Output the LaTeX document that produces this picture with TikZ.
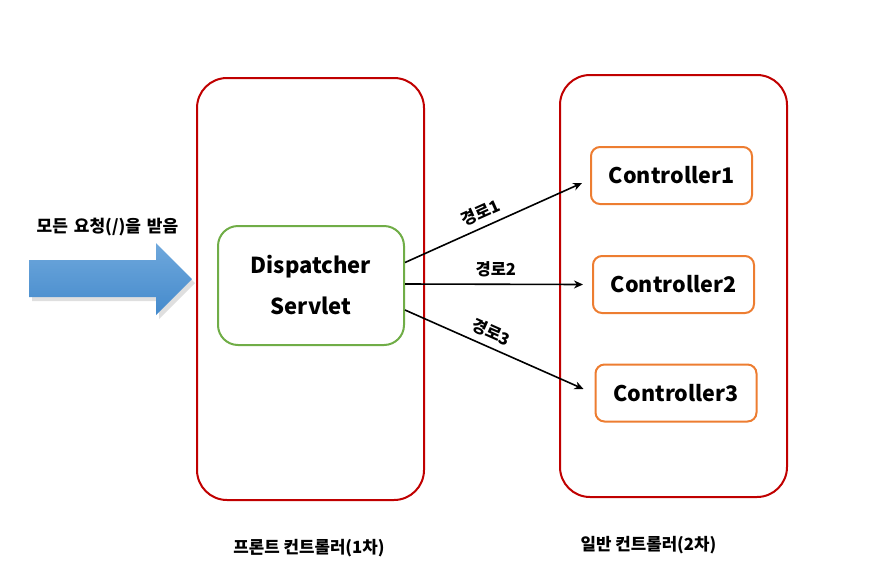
\documentclass[tikz,border=0pt]{standalone}
\usepackage{fontspec}
\setmainfont{Noto Sans CJK KR}
\usepackage{tikz}
\usetikzlibrary{arrows.meta,shadows,positioning}
\definecolor{fcred}{RGB}{192,0,0}
\definecolor{fcgreen}{RGB}{112,173,71}
\definecolor{fcorange}{RGB}{237,125,49}
\definecolor{fcblue}{RGB}{111,168,220}
\definecolor{fcblue2}{RGB}{68,138,204}
\tikzstyle{route} = [line width=1.6pt,-{Stealth[length=9pt,width=8pt]},color=black]
\tikzstyle{routelbl} = [font=\bfseries\fontsize{16.5}{18}\selectfont,inner sep=1pt]
\tikzstyle{frame} = [draw=fcred,line width=2pt,rounded corners=30pt,minimum width=227pt,minimum height=422pt]
\tikzstyle{ctrl} = [draw=fcorange,line width=2pt,rounded corners=9pt,minimum width=161pt,minimum height=57pt,font=\bfseries\fontsize{21.5}{25}\selectfont]

\begin{document}
\begin{tikzpicture}[x=1pt,y=-1pt]
\useasboundingbox (0,0) rectangle (878,581);
% front and normal controller frames
\node[frame] (front) at (310.5,289) {};
\node[frame] (normal) at (673.5,286) {};
\node[font=\bfseries\fontsize{16.8}{20}\selectfont] (frontlbl) at (309,548) {프론트 컨트롤러(1차)};
\node[font=\bfseries\fontsize{16.8}{20}\selectfont] (normallbl) at (648.5,545) {일반 컨트롤러(2차)};
% dispatcher servlet
\node[draw=fcgreen,line width=2pt,rounded corners=20pt,minimum width=186pt,minimum height=119pt,align=center,font=\bfseries\fontsize{22}{41}\selectfont] (ds) at (311,285.5) {Dispatcher\\Servlet};
% controllers
\node[ctrl] (c1) at (671.5,175.5) {Controller1};
\node[ctrl] (c2) at (673.5,284.5) {Controller2};
\node[ctrl] (c3) at (676,393) {Controller3};
% incoming request arrow
\fill[black!25,opacity=0.5] (32,264) -- (159,264) -- (159,247) -- (195,283) -- (159,319) -- (159,301) -- (32,301) -- cycle;
\shade[top color=fcblue,bottom color=fcblue2] (29,260) -- (156,260) -- (156,243) -- (192,279) -- (156,315) -- (156,297) -- (29,297) -- cycle;
\node[font=\bfseries\fontsize{17}{20}\selectfont] (req) at (107.5,227) {모든\hspace{0.35em}요청(/)을\hspace{0.35em}받음};
% routes
\draw[route] ([yshift=23]ds.east) -- node[routelbl,sloped,above=5pt,pos=0.46] {경로1} ([xshift=-8,yshift=-7.5]c1.west);
\draw[route] ([yshift=1.5]ds.east) -- node[routelbl,above=5pt,pos=0.51] {경로2} ([xshift=-9]c2.west);
\draw[route] ([yshift=-24.5]ds.east) -- node[routelbl,sloped,above=5pt,pos=0.45] {경로3} ([xshift=-11,yshift=4]c3.west);
\end{tikzpicture}
\end{document}
